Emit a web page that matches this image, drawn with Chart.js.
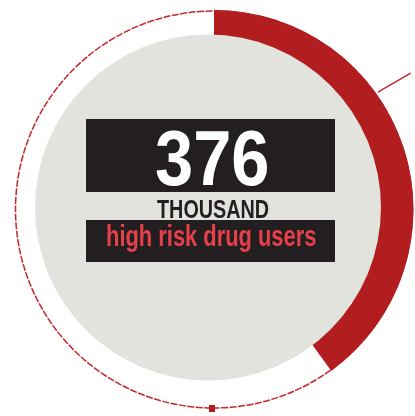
<!DOCTYPE html>
<html>
<head>
<meta charset="utf-8">
<script src="https://cdn.jsdelivr.net/npm/chart.js@4.4.1/dist/chart.umd.min.js"></script>
<style>
  html, body { margin: 0; padding: 0; background: #fff; }
  #wrap { position: relative; width: 415px; height: 416px; overflow: hidden; }
  #chart { position: absolute; left: 0; top: 0; }
  .box { position: absolute; left: 86px; width: 249px; background: #231f20; }
  .txt { position: absolute; white-space: nowrap; line-height: 1; font-family: "Liberation Sans", Arial, sans-serif; font-weight: bold; }
</style>
</head>
<body>
<div id="wrap">
  <canvas id="chart" width="415" height="416"></canvas>
  <div class="box" style="top:119px;height:73px"></div>
  <div class="box" style="top:220px;height:42px"></div>
  <div class="txt" id="num" style="top:120px;font-size:77px;color:#ffffff"></div>
  <div class="txt" id="unit" style="top:196px;font-size:26.5px;color:#231f20"></div>
  <div class="txt" id="caption" style="top:221px;font-size:30px;color:#e6404b"></div>
</div>
<script>
// share of the ring that is filled (red) vs the rest
const segmentLabels = ['High risk drug users', 'Rest'];
const segmentValues = [40, 60];
const segmentColors = ['#b21e1f', 'rgba(0,0,0,0)'];

// centre label
const headline = '376';
const unitLabel = 'THOUSAND';
const caption = 'high risk drug users';


// condensed look: scale text horizontally around its centre
function squeeze(id, text, centerX, targetWidth) {
    const el = document.getElementById(id);
    el.textContent = text;
    const w = el.offsetWidth;
    el.style.left = (centerX - w / 2) + 'px';
    el.style.transform = 'scaleX(' + (targetWidth / w) + ')';
}

squeeze('num', headline, 212, 114);
squeeze('unit', unitLabel, 212.5, 112);
squeeze('caption', caption, 210.5, 210);


// outline, grey disc, leader line and marker drawn around the doughnut
const ringDecor = {
    id: 'ringDecor',
    beforeDatasetsDraw(chart) {
        const arc = chart.getDatasetMeta(0).data[0];
        const ctx = chart.ctx;
        ctx.save();
        ctx.strokeStyle = '#c4262c';
        ctx.lineWidth = 1.5;
        ctx.setLineDash([7, 1.5]);
        ctx.beginPath();
        ctx.arc(arc.x, arc.y, arc.outerRadius - 1, 0, Math.PI * 2);
        ctx.stroke();
        ctx.restore();
    },
    afterDatasetsDraw(chart) {
        const arc = chart.getDatasetMeta(0).data[0];
        const { x, y, outerRadius } = arc;
        const ctx = chart.ctx;
        ctx.save();

        // grey disc sits a little up-left of the ring centre
        ctx.fillStyle = '#e3e3dd';
        ctx.beginPath();
        ctx.arc(x - 6, y - 2, outerRadius * 0.867, 0, Math.PI * 2);
        ctx.fill();

        // leader line going out to the top right
        const a = 54.4 * Math.PI / 180;
        const d = 60 * Math.PI / 180;
        const r = outerRadius + 2;
        const x1 = x + r * Math.sin(a), y1 = y - r * Math.cos(a);
        ctx.strokeStyle = '#c4262c';
        ctx.lineWidth = 1.5;
        ctx.beginPath();
        ctx.moveTo(x1, y1);
        ctx.lineTo(x1 + 38 * Math.sin(d), y1 - 38 * Math.cos(d));
        ctx.stroke();

        // small marker at the bottom of the ring
        ctx.fillStyle = '#b21e1f';
        ctx.fillRect(x - 5, y + outerRadius - 4, 6, 7);
        ctx.restore();
    }
};


new Chart(document.getElementById('chart'), {
    type: 'doughnut',
    data: {
        labels: segmentLabels,
        datasets: [{
            data: segmentValues,
            backgroundColor: segmentColors,
            borderWidth: 0,
            hoverBorderWidth: 0,
            hoverOffset: 0
        }]
    },
    options: {
        responsive: false,
        devicePixelRatio: 1,
        animation: false,
        events: [],
        cutout: '80%',
        rotation: 0,
        circumference: 360,
        layout: { padding: { left: 14.5, right: 1.5, top: 10, bottom: 7 } },
        plugins: {
            legend: { display: false },
            tooltip: { enabled: false }
        }
    },
    plugins: [ringDecor]
});
</script>
</body>
</html>
